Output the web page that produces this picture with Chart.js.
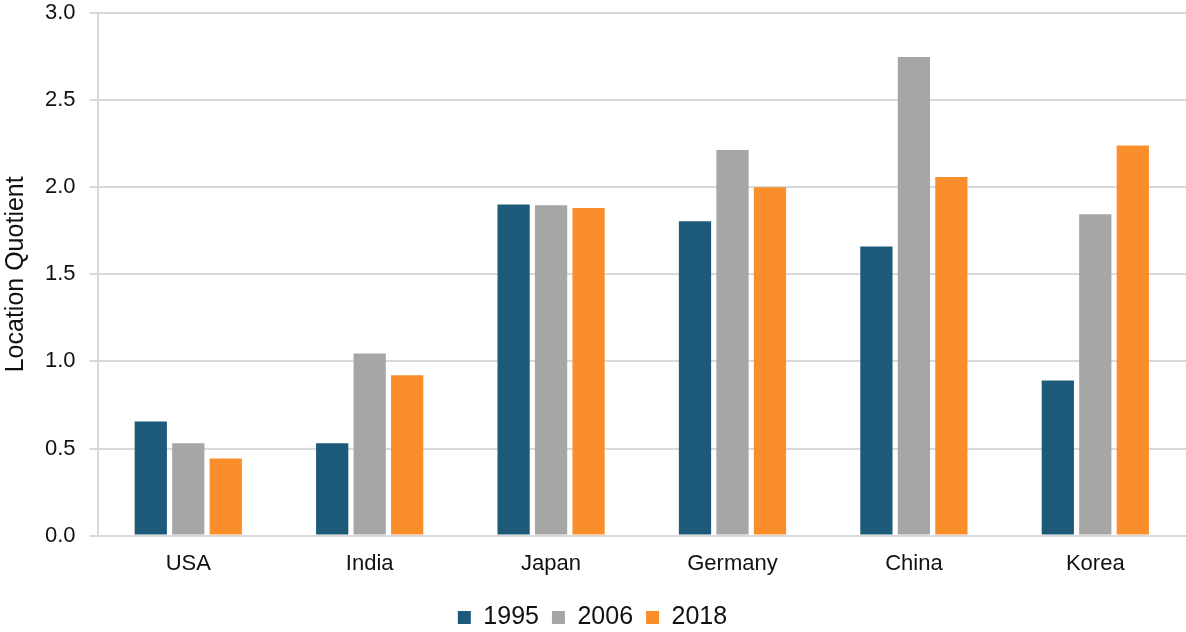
<!DOCTYPE html>
<html>
<head>
<meta charset="utf-8">
<script src="https://cdn.jsdelivr.net/npm/chart.js@4"></script>
<style>
  html, body { margin: 0; padding: 0; background: #fff; }
  #wrap { width: 1186px; height: 632px; }
</style>
</head>
<body>
<div id="wrap"><canvas id="myChart"></canvas></div>
<script>
var countries = ['USA', 'India', 'Japan', 'Germany', 'China', 'Korea'];
var years = ['1995', '2006', '2018'];
var values1995 = [0.655, 0.53, 1.90, 1.805, 1.66, 0.89];
var values2006 = [0.53, 1.045, 1.897, 2.213, 2.747, 1.845];
var values2018 = [0.443, 0.92, 1.88, 2.0, 2.058, 2.24];
var yTicks = [0, 0.5, 1.0, 1.5, 2.0, 2.5, 3.0];

var colors = ['#1D5A7A', '#A6A6A6', '#F98E2B'];
var series = [values1995, values2006, values2018];

Chart.defaults.font.family = "'Liberation Sans', Arial, sans-serif";
Chart.defaults.color = '#111';

var ctx = document.getElementById('myChart').getContext('2d');

var datasets = [];
years.forEach(function (y, i) {
    datasets.push({
        label: y,
        data: series[i],
        backgroundColor: colors[i],
        borderWidth: 0,
        barPercentage: 0.86,
        categoryPercentage: 0.62
    });
});

var myChart = new Chart(ctx, {
    type: 'bar',
    data: { labels: countries, datasets: datasets },
    options: {
        responsive: true,
        maintainAspectRatio: false,
        animation: false,
        layout: { padding: { top: 0, right: 0, left: -1, bottom: -8 } },
        plugins: {
            tooltip: { enabled: false },
            legend: {
                position: 'bottom',
                labels: {
                    boxWidth: 13,
                    boxHeight: 13,
                    padding: 13,
                    font: { size: 25 },
                    color: '#111'
                }
            }
        },
        scales: {
            x: {
                grid: { display: false, drawTicks: false },
                border: { color: '#D9D9D9', width: 2 },
                ticks: { font: { size: 22 }, color: '#111', padding: 15 }
            },
            y: {
                min: 0,
                max: 3,
                afterBuildTicks: function (axis) {
                    axis.ticks = yTicks.map(function (v) { return { value: v }; });
                },
                afterFit: function (axis) {
                    axis.paddingTop = 13;
                },
                grid: { color: '#D9D9D9', lineWidth: 2, tickLength: 8 },
                border: { color: '#D9D9D9', width: 2 },
                ticks: {
                    font: { size: 22 },
                    color: '#111',
                    padding: 14,
                    callback: function (v) { return v.toFixed(1); }
                },
                title: {
                    display: true,
                    text: 'Location Quotient',
                    font: { size: 25 },
                    color: '#111',
                    padding: { top: 2, bottom: 0 }
                }
            }
        }
    }
});
</script>
</body>
</html>
